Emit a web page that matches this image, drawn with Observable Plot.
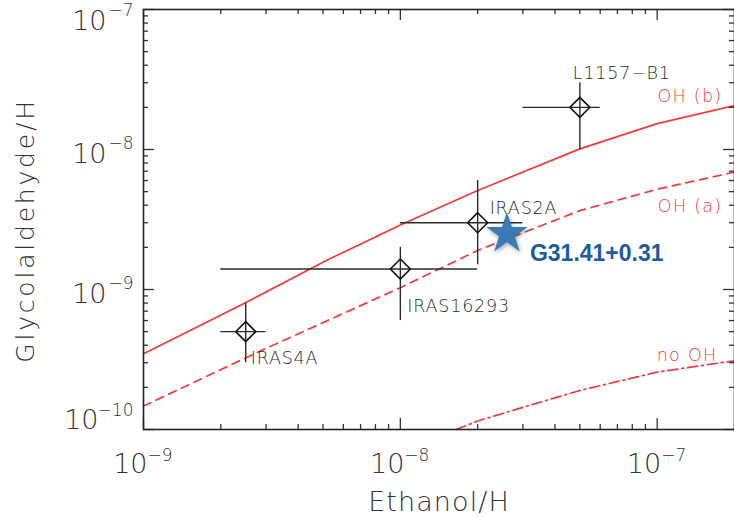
<!DOCTYPE html>
<html><head><meta charset="utf-8">
<script src="https://cdn.jsdelivr.net/npm/d3@7"></script>
<script src="https://cdn.jsdelivr.net/npm/@observablehq/plot@0.6"></script>
<style>
html,body{margin:0;padding:0;background:#fff;}
</style>
</head><body><div id="chart"></div>
<script>
// ---- observed sources ----
const sources   = ["IRAS4A", "IRAS16293", "IRAS2A", "L1157−B1"];
const ethanol   = [2.5e-9, 1e-8, 2e-8, 5e-8];
const ethanolLo = [2e-9, 2e-9, 1e-8, 3e-8];
const ethanolHi = [3e-9, 2e-8, 3e-8, 6e-8];
const glyco     = [5e-10, 1.4e-9, 3e-9, 2e-8];
const glycoLo   = [3e-10, 6e-10, 1.5e-9, 1e-8];
const glycoHi   = [8e-10, 2e-9, 6e-9, 3e-8];

// ---- highlighted source ----
const starName    = "G31.41+0.31";
const starEthanol = [2.6e-8];
const starGlyco   = [2.5e-9];

// ---- model curves ----
const modelNames = ["OH (b)", "OH (a)", "no OH"];
const ohbX  = [1e-9, 2.45e-9, 5.15e-9, 1e-8, 2e-8, 5e-8, 1e-7, 2e-7];
const ohbY  = [3.48e-10, 7.9e-10, 1.61e-9, 2.89e-9, 5.1e-9, 1.01e-8, 1.53e-8, 2.06e-8];
const ohaX  = [1e-9, 3e-9, 1e-8, 2e-8, 5e-8, 1e-7, 2e-7];
const ohaY  = [1.47e-10, 3.8e-10, 1.03e-9, 1.9e-9, 3.66e-9, 5.2e-9, 6.9e-9];
const nohX  = [1.65e-8, 2e-8, 3e-8, 5e-8, 1e-7, 2e-7];
const nohY  = [1e-10, 1.15e-10, 1.44e-10, 1.9e-10, 2.57e-10, 3.1e-10];

// ---- axes ----
const xTitle = "Ethanol/H";
const yTitle = "Glycolaldehyde/H";
const xMajor = [1e-9, 1e-8, 1e-7];
const yMajor = [1e-10, 1e-9, 1e-8, 1e-7];
const xDomain = [1e-9, 2e-7];
const yDomain = [1e-10, 1e-7];

// ---- layout ----
const W = 734, H = 517, mL = 143, mR = 0, mT = 9, mB = 88;
const iW = W - mL - mR, iH = H - mT - mB;
const RED = "#f53a3a", INK = "#2a2a2a";
const FONT = "DejaVu Sans";

const minorOf = (decades, maxV) => decades.flatMap(d => d3.range(2, 10).map(k => k * d)).filter(v => v <= maxV * 1.0001);
const xMinor = minorOf([1e-9, 1e-8, 1e-7], xDomain[1]);
const yMinor = minorOf([1e-10, 1e-9, 1e-8], yDomain[1]);
const expo = v => "−" + String(Math.round(-Math.log10(v)));

const idx = d3.range(sources.length);
const curve = (X, Y) => X.map((x, i) => ({x, y: Y[i]}));
const ohb = curve(ohbX, ohbY), oha = curve(ohaX, ohaY), noh = curve(nohX, nohY);

const lab = (i, dx, dy) => Plot.text([i], {
  x: j => ethanol[j], y: j => glyco[j], text: j => sources[j],
  textAnchor: "start", lineAnchor: "bottom", dx, dy,
  fontSize: 17.5, fontFamily: FONT, fontWeight: 200, fill: INK
});
const curveLab = (arr, name, dx, dy) => Plot.text([arr[arr.length - 1]], {
  x: "x", y: "y", text: () => name, textAnchor: "end", lineAnchor: "bottom",
  dx, dy, fontSize: 17.5, fontFamily: FONT, fontWeight: 200, fill: RED
});
const tickText = {fontFamily: FONT, fontWeight: 200, fill: "#333", lineAnchor: "bottom"};

const plot = Plot.plot({
  width: W, height: H,
  marginLeft: mL, marginRight: mR, marginTop: mT, marginBottom: mB,
  x: {type: "log", domain: xDomain, axis: null},
  y: {type: "log", domain: yDomain, axis: null},
  style: {background: "#fff"},
  marks: [
    // model curves
    Plot.line(ohb, {x: "x", y: "y", stroke: RED, strokeWidth: 1.7}),
    Plot.line(oha, {x: "x", y: "y", stroke: RED, strokeWidth: 1.7, strokeDasharray: "8,6"}),
    Plot.line(noh, {x: "x", y: "y", stroke: RED, strokeWidth: 1.7, strokeDasharray: "10,4,2,4"}),
    curveLab(ohb, modelNames[0], -12, -4),
    curveLab(oha, modelNames[1], -12, 40),
    curveLab(noh, modelNames[2], -17, 0),
    // error bars
    Plot.ruleY(idx, {y: i => glyco[i], x1: i => ethanolLo[i], x2: i => ethanolHi[i], stroke: INK, strokeWidth: 1.4}),
    Plot.ruleX(idx, {x: i => ethanol[i], y1: i => glycoLo[i], y2: i => glycoHi[i], stroke: INK, strokeWidth: 1.4}),
    Plot.dot(idx, {x: i => ethanol[i], y: i => glyco[i], symbol: "diamond2", r: 9, stroke: "#111", strokeWidth: 1.6, fill: "none"}),
    lab(0, 5, 32), lab(1, 7, 43), lab(2, 12, -9), lab(3, -7, -28),
    // star
    Plot.dot([0], {x: i => starEthanol[i], y: i => starGlyco[i], symbol: "star", r: 13, fill: "#3a7bb6",
      imageFilter: "drop-shadow(1px 2px 2px rgba(0,0,0,0.35))"}),
    Plot.text([0], {x: i => starEthanol[i], y: i => starGlyco[i], text: () => starName,
      textAnchor: "start", lineAnchor: "bottom", dx: 23, dy: 27,
      fontFamily: "Liberation Sans", fontWeight: "bold", fontSize: 23, fill: "#1b5c9d"}),
    // ticks (inward, all four sides)
    Plot.ruleX(xMinor, {x: d => d, insetTop: iH - 5, stroke: "#333", strokeWidth: 1.3}),
    Plot.ruleX(xMinor, {x: d => d, insetBottom: iH - 5, stroke: "#333", strokeWidth: 1.3}),
    Plot.ruleX(xMajor, {x: d => d, insetTop: iH - 11, stroke: "#333", strokeWidth: 1.3}),
    Plot.ruleX(xMajor, {x: d => d, insetBottom: iH - 11, stroke: "#333", strokeWidth: 1.3}),
    Plot.ruleY(yMinor, {y: d => d, insetRight: iW - 5, stroke: "#333", strokeWidth: 1.3}),
    Plot.ruleY(yMinor, {y: d => d, insetLeft: iW - 5, stroke: "#333", strokeWidth: 1.3}),
    Plot.ruleY(yMajor, {y: d => d, insetRight: iW - 11, stroke: "#333", strokeWidth: 1.3}),
    Plot.ruleY(yMajor, {y: d => d, insetLeft: iW - 11, stroke: "#333", strokeWidth: 1.3}),
    Plot.frame({stroke: "#222", strokeWidth: 1.6}),
    // x tick labels
    Plot.text(xMajor, {x: d => d, frameAnchor: "bottom", text: () => "10", textAnchor: "end", dx: 4, dy: 43, fontSize: 27, ...tickText}),
    Plot.text(xMajor, {x: d => d, frameAnchor: "bottom", text: expo, textAnchor: "start", dx: 4, dy: 31, fontSize: 17, ...tickText}),
    // y tick labels (middle)
    Plot.text([1e-9, 1e-8], {y: d => d, frameAnchor: "left", text: () => "10", textAnchor: "end", dx: -37, dy: 13, fontSize: 27, ...tickText}),
    Plot.text([1e-9, 1e-8], {y: d => d, frameAnchor: "left", text: expo, textAnchor: "end", dx: -10, dy: -1, fontSize: 17, ...tickText}),
    // top label
    Plot.text([1e-7], {y: d => d, frameAnchor: "left", text: () => "10", textAnchor: "end", dx: -37, dy: 20, fontSize: 27, ...tickText}),
    Plot.text([1e-7], {y: d => d, frameAnchor: "left", text: expo, textAnchor: "end", dx: -10, dy: 6, fontSize: 17, ...tickText}),
    // bottom label
    Plot.text([1e-10], {y: d => d, frameAnchor: "left", text: () => "10", textAnchor: "end", dx: -45, dy: -1, fontSize: 27, ...tickText}),
    Plot.text([1e-10], {y: d => d, frameAnchor: "left", text: expo, textAnchor: "end", dx: -10, dy: -14, fontSize: 17, ...tickText}),
    // axis titles
    Plot.text([xTitle], {frameAnchor: "bottom", text: d => d, textAnchor: "middle", lineAnchor: "bottom", dy: 81,
      fontSize: 27, fontFamily: FONT, fontWeight: 200, fill: "#333"}),
    Plot.text([yTitle], {frameAnchor: "left", text: d => d, textAnchor: "middle", rotate: -90, lineAnchor: "bottom", dx: -110, dy: 11,
      fontSize: 25, fontFamily: FONT, fontWeight: 200, fill: "#333"})
  ]
});

// letter spacing to mimic the wide original lettering
const spacing = new Map([
  [yTitle, 2.8], [xTitle, 1.1],
  ...sources.map(s => [s, 0.8]),
  ...modelNames.map(s => [s, 1.3])
]);
d3.select(plot).selectAll("text").each(function () {
  const t = this.textContent;
  if (spacing.has(t)) this.style.letterSpacing = spacing.get(t) + "px";
});
document.getElementById("chart").appendChild(plot);
</script>
</body></html>
